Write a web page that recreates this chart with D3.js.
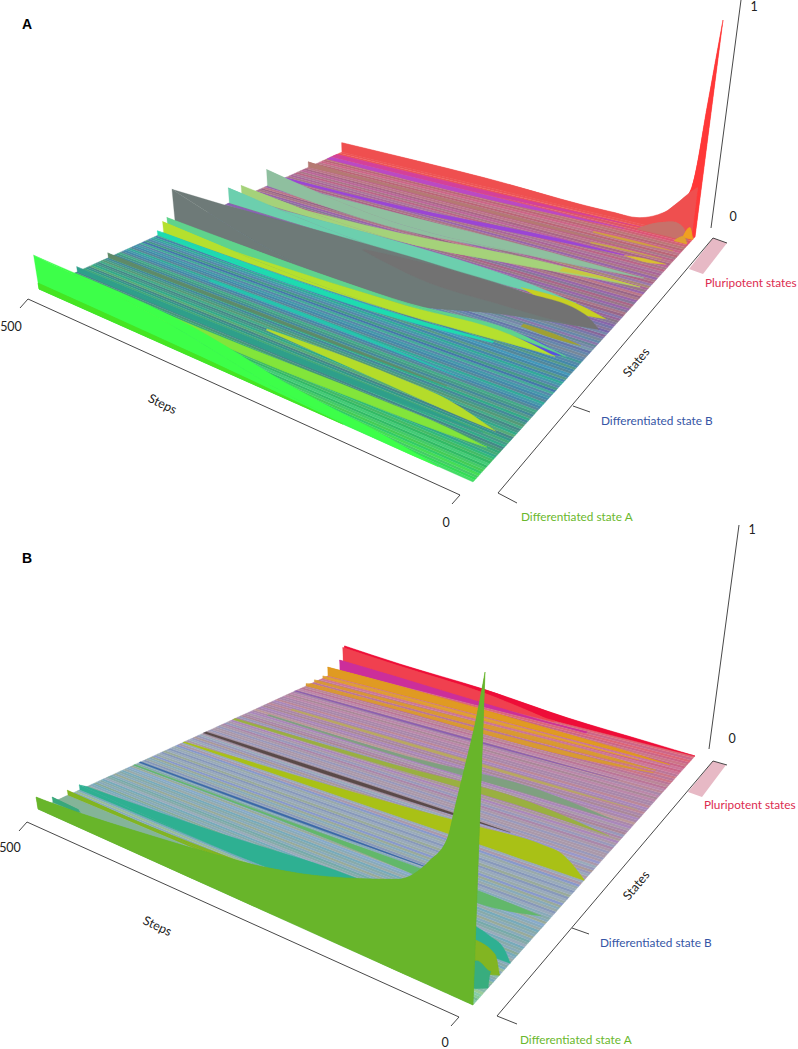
<!DOCTYPE html>
<html><head><meta charset="utf-8">
<style>html,body{margin:0;padding:0;background:#fff}svg{display:block}text{font-family:Lato,"Open Sans",sans-serif}</style>
<script src="https://cdnjs.cloudflare.com/ajax/libs/d3/7.8.5/d3.min.js"></script>
</head><body><div id="chart"></div>
<script>
// background state colours, state 0 (differentiated A) to state 1 (pluripotent)
const stripesA = "4d6 3d5 4c6 4d5 3c6 4c5 4c6 3b6 4c7 3b6 4b6 3b7 3a8 4a7 3a7 497 488 3a8 498 4a7 398 488 5a7 3a8 498 488 4a8 597 498 489 3a8 598 489 498 4a8 589 48a 49a 3a9 589 48a 49a 58a 4a9 47a 498 58a 49a 3a9 48a 598 48a 49b 589 48a 598 48a 58a 499 58a 68a 789 68a 67a 79a 78a 689 87a 68a 789 77a 869 78a 76a 879 77a 86a 879 878 969 87a 968 a78 879 96a 978 a68 879 96a a78 968 b78 96a 978 a69 a87 97a a68 a78 96a a78 a69 a79 b68 a78 b69 a68 b78 b68 a78 b67 b78 c68 b67 b77 c67 d57 d56 e55 e55".split(" ");
const stripesB = "8c9 8ca 7b9 8c9 8ca 9c9 8ba 8ba 7a9 8aa 8b9 7ab 8aa 8ba 7a9 8ab 9b9 7ab 8aa 8ab 7aa 9aa 8ab 7ab 8a9 8ab 8aa 7ab 9ab 8aa 7aa 8ab 9a9 8ab 8aa 7ab 9aa 8ab 8ac 9a9 8ab 8aa 8ab 9ab 89b 9aa 8ab 9a9 89c 9aa 9ab 89b 9a9 9ab 89b 9ab 9aa 89c a9a 9ab 99b a9a 9ab 99b a99 99b 9ab a9a 99c a9a 99b a9a a9a 99b a9a a8a 99b a9a a8b a99 a8a 99b a89 a8a a9a a8b a8a b99 a8a a8b a89 a8a b89 a8a a8b b89 a8a a8a b8a a89 b8a a8a b89 b8a b79 b89 b79 c78 b79 c78 b79 c79 c68 c79 c68 c78 c68 d67 c68 d67".split(" ");

// ribbons, far to near: colour, steps, near state, far state, probability at near state
const ribbonsA = [
 ["#ff3838",[20,13,6,3,0],[1,1,1,1,1],[1,1,1,1,1],[.16,.22,.6,.8,1]],
 ["#ef5050",[500,300,120,79,46,30,13,5],[1,1,1,1,1,1,1,1],[1,1,1,1,1,1,1,1],[.055,.045,.024,.028,.08,.135,.2,.225]],
 ["#d4409a",[500,320,70],[.97,.97,.99],[.985,.985,.99]],
 ["#c7716a",[75,55,28,14,4],[.98,.98,.98,.98,.98],[.98,.98,.98,.98,.98],[0,.04,.07,.06,.01]],
 ["#f0a020",[14,6,0],[.99,.99,.99],[.99,.99,.99],[0,.05,0]],
 ["#e0a030",[20,8,2],[.97,.97,.97],[.97,.97,.97],[0,.03,0]],
 ["#bb48c4",[500,250,90],[.955,.955,.97],[.968,.968,.97]],
 ["#d0a040",[120,60,10],[.93,.93,.935],[.934,.937,.935]],
 ["#b57a72",[500,440,250,60],[.9,.905,.905,.91],[.915,.915,.915,.91],[.03,.01,0,0]],
 ["#c8a848",[110,60,15],[.89,.895,.9],[.894,.9,.9]],
 ["#9a45d6",[500,345,150,46],[.82,.83,.865,.88],[.83,.842,.877,.88]],
 ["#d8c030",[60,25,5],[.878,.875,.885],[.878,.886,.885]],
 ["#8fbf9f",[500,335,158,15],[.775,.75,.79,.82],[.8,.81,.82,.82],[.085,.03,0,0]],
 ["#a5d27a",[500,306,146,60,10],[.695,.706,.75,.775,.787],[.71,.738,.78,.787,.787],[.06,0,0,0,0]],
 ["#c8c840",[110,60,10],[.765,.78,.787],[.78,.787,.787]],
 ["#6ccfae",[500,283,120,60],[.655,.654,.665,.673],[.68,.703,.69,.673],[.075,0,0,0]],
 ["#8a60b8",[500,200,80],[.645,.64,.64],[.652,.646,.64]],
 ["#c8d020",[130,60,15],[.67,.64,.651],[.67,.672,.651]],
 ["#6e7a78",[500,224,120,15],[.48,.48,.56,.61],[.64,.66,.655,.61],[.175,0,0,0]],
 ["#727272",[320,234,130,40,12],[.63,.59,.59,.6,.61],[.635,.655,.655,.645,.61]],
 ["#a0a030",[90,50,15],[.54,.535,.54],[.55,.55,.54]],
 ["#5a4fe0",[130,50,25],[.495,.475,.487],[.495,.505,.487]],
 ["#5fd38c",[500,213,90,20],[.455,.48,.5,.49],[.475,.491,.515,.49],[.06,.01,0,0]],
 ["#b5e02f",[500,213,90,30],[.44,.447,.47,.479],[.46,.48,.5,.479],[.05,0,0,0]],
 ["#1fdcb0",[500,207,100],[.42,.425,.455],[.44,.44,.46],[.02,0,0]],
 ["#25c4ae",[400,230,90],[.31,.31,.302],[.32,.32,.302]],
 ["#5e8a68",[500,250,100],[.25,.255,.26],[.264,.264,.26],[.02,0,0]],
 ["#b4dc2c",[300,150,84,20],[.21,.19,.182,.179],[.215,.225,.216,.179]],
 ["#2f9f8a",[500,250,100,30],[.14,.14,.15,.16],[.16,.16,.162,.16],[.02,0,0,0]],
 ["#82e53a",[500,300,150,60,15],[.075,.09,.1,.11,.12],[.12,.12,.13,.13,.12],[.05,0,0,0,0]],
 ["#3cff4a",[500,358,221,100,40],[0,0,0,0,0],[.13,.112,.05,.02,0],[.13,.09,.02,0,0]],
 ["#45e524",[500,250,150],[0,0,0],[0,0,0],[.023,.01,0]]
];
const ribbonsB = [
 ["#ee1038",[500,421,303,183,64,0],[1,1,1,1,1,1],[1,1,1,1,1,1],[.13,.1,.072,.03,.01,0]],
 ["#f0404f",[500,421,303,200],[.995,.995,.995,.995],[1,1,1,1],[.125,.095,.06,0]],
 ["#cc2f9a",[500,421,303,150],[.985,.985,.985,.985],[.99,.99,.99,.99],[.06,.045,.02,0]],
 ["#e09a20",[500,399,260,100,20],[.95,.95,.95,.95,.95],[.96,.96,.96,.96,.95],[.05,.045,.03,.012,0]],
 ["#e0a030",[500,250,60],[.935,.935,.94],[.945,.945,.94],[.012,0,0]],
 ["#d89a30",[500,370,100,30],[.91,.91,.915,.92],[.92,.92,.925,.92],[.012,0,0,0]],
 ["#d89a30",[500,370,100,30],[.885,.89,.895,.91],[.9,.9,.905,.91],[.012,0,0,0]],
 ["#8a60b0",[500,200,60],[.85,.85,.855],[.855,.855,.855]],
 ["#b8a860",[470,100,10],[.77,.77,.775],[.776,.776,.775]],
 ["#7fa080",[480,298,128,25],[.72,.714,.72,.72],[.725,.725,.745,.72]],
 ["#9ab040",[500,300,128,15],[.66,.665,.672,.665],[.668,.68,.695,.665]],
 ["#5a4a48",[500,200,114],[.566,.568,.574],[.575,.576,.574]],
 ["#a9c116",[500,240,149,71,45,0],[.5,.5,.5,.5,.5,.5],[.505,.542,.558,.568,.56,.502]],
 ["#3a68a8",[500,200,120],[.354,.36,.365],[.36,.364,.365]],
 ["#62b86a",[500,300,130,80,10],[.335,.335,.32,.31,.345],[.34,.345,.352,.35,.345]],
 ["#2fb092",[500,350,228,130,59,40,15,0],[.15,.15,.155,.16,.165,.165,.166,.168],[.175,.205,.237,.24,.237,.225,.2,.168],[.02,0,0,0,0,0,0,0]],
 ["#84b498",[500,300,150],[.054,.07,.09],[.105,.105,.09]],
 ["#82b520",[500,228,100,59,20,0],[.108,.108,.1,.1,.1,.12],[.115,.146,.175,.195,.176,.12],[.02,0,0,0,0,0]],
 ["#39a87c",[500,470],[.054,.054],[.06,.06],[.02,.015]],
 ["#37ad7e",[60,30,10,0],[.04,.04,.05,.068],[.05,.134,.12,.068]],
 ["#67b52c",[500,481,356,299,228,165,87,52,33,26,17,7,0],[0,0,0,0,0,0,0,0,0,0,0,0,0],[0,0,0,0,0,0,0,0,0,0,0,0,0],[.046,.05,.096,.12,.157,.206,.286,.38,.47,.57,.7,.855,1]]
];

const stepTicks = [500,0];
const valueTicks = [0,1];
const stateLabels = ["Differentiated state A","Differentiated state B","Pluripotent states"];
const stateColors = ["#6ab82c","#3555a5","#dc2c50"];

const panels = [
 {id:"A", ribbons:ribbonsA, stripes:stripesA, zvp:[399,2530],
  corners:{p00:[473,482],p10:[695,237],p11:[342,152],p01:[39,289]},
  letter:[22,29], stepAxis:[[28,299],[460,495]], stepTickDx:[-8,9], stepTickLabels:[[11,331],[446,527]], stepsLabel:[162,405,26],
  stateAxis:[[498,493],[713,238]], stateTicks:[[[498,493],[517,503]],[[573,406],[590,412]],[[713,238],[727,243]]],
  stateText:[[521,521],[601,425],[705,287]], statesLabel:[637,363],
  band:[[713,238],[727,243],[703,274],[689,269]],
  zAxis:[[711,228],[741,0]], zLabels:[[733,221],[754,11]]},
 {id:"B", ribbons:ribbonsB, stripes:stripesB, zvp:[399,3053],
  corners:{p00:[473,1005],p10:[695,756],p11:[345,668],p01:[38,809]},
  letter:[22,563], stepAxis:[[27,822],[459,1017]], stepTickDx:[-8,9], stepTickLabels:[[10,852],[445,1047]], stepsLabel:[157,927,25],
  stateAxis:[[497,1016],[713,761]], stateTicks:[[[497,1016],[517,1024]],[[572,928],[589,934]],[[713,761],[727,765]]],
  stateText:[[520,1044],[600,947],[704,809]], statesLabel:[637,886],
  band:[[713,761],[726,765],[702,797],[688,792]],
  zAxis:[[709,749],[739,525]], zLabels:[[732,743],[752,534]]}
];

const svg = d3.select("#chart").append("svg").attr("width",798).attr("height",1049).attr("viewBox","0 0 798 1049");
const defs = svg.append("defs");
[["soft",.55],["softer",.3]].forEach(([id,d])=>{
  defs.append("filter").attr("id",id).attr("x","-2%").attr("y","-2%").attr("width","104%").attr("height","104%")
    .append("feGaussianBlur").attr("stdDeviation",d);
});

function meet(a,b,c,d){
  const x1=a[0],y1=a[1],x2=b[0],y2=b[1],x3=c[0],y3=c[1],x4=d[0],y4=d[1];
  const den=(x1-x2)*(y3-y4)-(y1-y2)*(x3-x4);
  const p=x1*y2-y1*x2,q=x3*y4-y3*x4;
  return [(p*(x3-x4)-(x1-x2)*q)/den,(p*(y3-y4)-(y1-y2)*q)/den];
}

function drawPanel(P){
  const g = svg.append("g").attr("class","panel-"+P.id);
  const {p00,p10,p11,p01} = P.corners;
  const vp = meet(p00,p01,p10,p11);
  const stateX = d3.scaleLinear([0,1],[p00[0],p10[0]]);
  const stateY = d3.scaleLinear([0,1],[p00[1],p10[1]]);
  const stepT = d3.scaleLinear([0,500],[0,1]);
  const heightAt0 = d3.scaleLinear([0,1],[333,217]);
  const heightAt500 = d3.scaleLinear([0,1],[260,170]);
  const project = (step,state,value=0)=>{
    const a=[stateX(state),stateY(state)];
    const b=meet(a,vp,p01,p11);
    const u=stepT(step);
    const x=a[0]+(b[0]-a[0])*u, y=a[1]+(b[1]-a[1])*u;
    const z=value*(heightAt0(state)+(heightAt500(state)-heightAt0(state))*u);
    return [x+z*(x-P.zvp[0])/(P.zvp[1]-y), y-z];
  };
  const line = d3.line().curve(d3.curveMonotoneX);
  const band = (upper,lower)=> line(upper)+"L"+line(lower.slice().reverse()).slice(1)+"Z";

  // flat background stripes
  const n = P.stripes.length;
  const idx = d3.scaleLinear([0,n],[0,1]);
  g.append("g").attr("filter","url(#soft)").selectAll("path").data(P.stripes).join("path")
    .attr("d",(c,i)=>{
      const s0=idx(i), s1=idx(i+1);
      return "M"+[project(500,s0),project(0,s0),project(0,s1),project(500,s1)].join("L")+"Z";
    })
    .attr("fill",c=>"#"+c).attr("stroke",c=>"#"+c).attr("stroke-width",.3);

  // raised / tapered ribbons, painted far to near
  const rows = g.append("g").attr("filter","url(#softer)").selectAll("g").data(P.ribbons).join("g");
  rows.each(function(r){
    const [color,steps,near,far,vals] = r;
    const hv = vals || steps.map(()=>0);
    const baseNear = steps.map((t,i)=>project(t,near[i],0));
    const topNear = steps.map((t,i)=>project(t,near[i],hv[i]));
    const baseFar = steps.map((t,i)=>project(t,far[i],0));
    const sel = d3.select(this);
    sel.append("path").attr("d",band(topNear,baseFar));
    if (vals) sel.append("path").attr("d",band(topNear,baseNear));
    sel.selectAll("path").attr("fill",color).attr("stroke",color).attr("stroke-width",.3).attr("stroke-linejoin","round");
  });

  // axes
  const seg = (a,b,s)=>s.append("line").attr("x1",a[0]).attr("y1",a[1]).attr("x2",b[0]).attr("y2",b[1]);
  g.append("path").attr("d","M"+P.band.join("L")+"Z").attr("fill","#e7b9c5");
  const ax2 = g.append("g").attr("stroke","#333").attr("stroke-width",.9);
  [P.stepAxis,P.stateAxis,P.zAxis].forEach(l=>seg(l[0],l[1],ax2));
  P.stepAxis.forEach(p=>seg(p,[p[0]+P.stepTickDx[0],p[1]+P.stepTickDx[1]],ax2));
  P.stateTicks.forEach(l=>seg(l[0],l[1],ax2));

  const txt=(x,y,t,o={})=>{
    const e=g.append("text").attr("x",x).attr("y",y).text(t)
      .attr("font-size",o.size||12).attr("fill",o.fill||"#222").attr("text-anchor",o.anchor||"start");
    if(o.rot!==undefined) e.attr("transform",`rotate(${o.rot} ${x} ${y})`).attr("dominant-baseline","middle");
    if(o.family) e.style("font-family",o.family);
    if(o.weight) e.attr("font-weight",o.weight);
    return e;
  };
  txt(P.letter[0],P.letter[1],P.id,{size:14,weight:"bold",fill:"#000",family:"'Liberation Sans',sans-serif"});
  stepTicks.forEach((v,i)=>txt(P.stepTickLabels[i][0],P.stepTickLabels[i][1],v,{anchor:"middle",size:12.5}));
  valueTicks.forEach((v,i)=>txt(P.zLabels[i][0],P.zLabels[i][1],v,{anchor:"middle",size:12.5}));
  txt(P.stepsLabel[0],P.stepsLabel[1],"Steps",{anchor:"middle",rot:P.stepsLabel[2],size:12.5});
  txt(P.statesLabel[0],P.statesLabel[1],"States",{anchor:"middle",rot:-50,size:12.5});
  stateLabels.forEach((t,i)=>txt(P.stateText[i][0],P.stateText[i][1],t,{fill:stateColors[i],size:11.8}));
}
panels.forEach(drawPanel);
</script></body></html>
